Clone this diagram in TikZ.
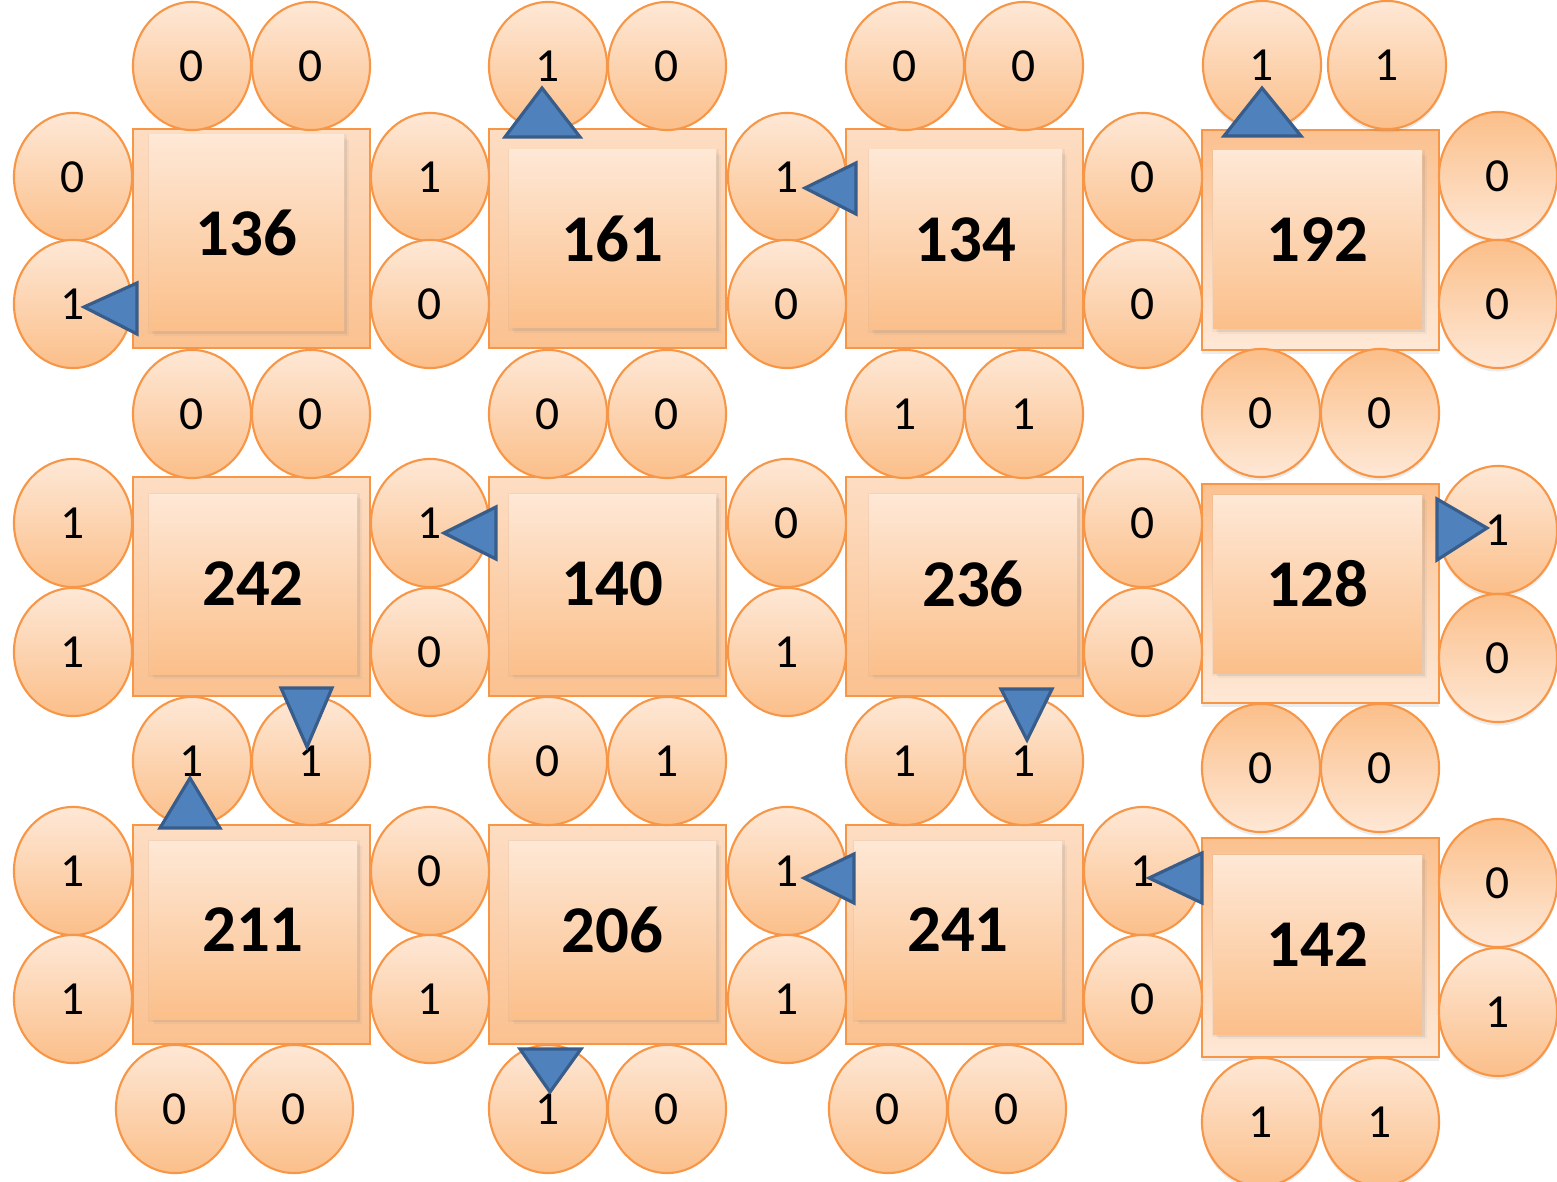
\documentclass[tikz,border=0pt]{standalone}
\usepackage{fontspec}
\setmainfont{Carlito}
\usetikzlibrary{shapes.geometric,shadows}
\definecolor{cLt}{HTML}{FEE8D6}
\definecolor{cDk}{HTML}{FBBF8A}
\definecolor{cOLt}{HTML}{FDDDC3}
\definecolor{cODk}{HTML}{FBC190}
\definecolor{cStroke}{HTML}{F79646}
\definecolor{triFill}{HTML}{4F81BD}
\definecolor{triLine}{HTML}{385D8A}
\tikzset{
  softshadow/.style={
    drop shadow={opacity=0.08, shadow xshift=0.3pt, shadow yshift=-0.3pt, shadow scale=1.02},
    drop shadow={opacity=0.08, shadow xshift=0.8pt, shadow yshift=-0.8pt},
    drop shadow={opacity=0.08, shadow xshift=1.3pt, shadow yshift=-1.3pt}},
  bit/.style={ellipse, draw=cStroke, line width=0.6pt, inner sep=0pt,
    minimum width=1.18cm, minimum height=1.28cm,
    font=\fontsize{13.5}{16}\selectfont},
  bitn/.style={bit, top color=cLt, bottom color=cDk},
  bitr/.style={bit, top color=cDk, bottom color=cLt},
  bitns/.style={bitn, drop shadow={opacity=0.15, shadow xshift=0pt, shadow yshift=-1pt}},
  bitrs/.style={bitr, drop shadow={opacity=0.15, shadow xshift=0pt, shadow yshift=-1pt}},
  outerbox/.style={rectangle, draw=cStroke, line width=0.6pt, inner sep=0pt,
    top color=cOLt, bottom color=cODk},
  outerboxr/.style={rectangle, draw=cStroke, line width=0.6pt, inner sep=0pt,
    top color=cODk, bottom color=cLt,
    drop shadow={opacity=0.15, shadow xshift=0pt, shadow yshift=-1pt}},
  innerbox/.style={rectangle, inner sep=0pt, top color=cLt, bottom color=cDk,
    softshadow, font=\fontsize{19}{22}\selectfont\bfseries},
  tri/.style={fill=triFill, draw=triLine, line width=0.9pt, line join=miter}
}
% name, style, x1, y1, x2, y2, text
\newcommand\mybox[7]{%
  \node[#2, minimum width={(#5-#3)*0.01cm}, minimum height={(#6-#4)*0.01cm}]
    (#1) at ({(#3+#5)/2},{(#4+#6)/2}) {#7};}
% name, style, x, y, text
\newcommand\mycirc[5]{\node[#2] (#1) at (#3,#4) {#5};}
\begin{document}
\begin{tikzpicture}[x=0.01cm,y=-0.01cm]
\useasboundingbox (0,0) rectangle (1557,1182);
% outer boxes
\mybox{o11}{outerbox}{133}{129}{370}{348}{}
\mybox{o12}{outerbox}{489}{129}{726}{348}{}
\mybox{o13}{outerbox}{846}{129}{1083}{348}{}
\mybox{o14}{outerboxr}{1202}{130}{1439}{350}{}
\mybox{o21}{outerbox}{133}{477}{370}{696}{}
\mybox{o22}{outerbox}{489}{477}{726}{696}{}
\mybox{o23}{outerbox}{846}{477}{1083}{696}{}
\mybox{o24}{outerboxr}{1202}{484}{1439}{703}{}
\mybox{o31}{outerbox}{133}{825}{370}{1044}{}
\mybox{o32}{outerbox}{489}{825}{726}{1044}{}
\mybox{o33}{outerbox}{846}{825}{1083}{1044}{}
\mybox{o34}{outerboxr}{1202}{838}{1439}{1057}{}
% inner boxes
\mybox{i11}{innerbox}{149}{135}{344}{331}{136}
\mybox{i12}{innerbox}{509}{150}{716}{328}{161}
\mybox{i13}{innerbox}{869}{150}{1062}{330}{134}
\mybox{i14}{innerbox}{1213}{151}{1422}{329}{192}
\mybox{i21}{innerbox}{149}{494}{357}{674}{242}
\mybox{i22}{innerbox}{509}{494}{716}{674}{140}
\mybox{i23}{innerbox}{869}{494}{1077}{674}{236}
\mybox{i24}{innerbox}{1213}{495}{1422}{673}{128}
\mybox{i31}{innerbox}{149}{841}{357}{1019}{211}
\mybox{i32}{innerbox}{509}{841}{716}{1019}{206}
\mybox{i33}{innerbox}{854}{841}{1062}{1019}{241}
\mybox{i34}{innerbox}{1213}{855}{1422}{1034}{142}
% row 0 (top)
\mycirc{t1a}{bitn}{192}{66}{0}
\mycirc{t1b}{bitn}{311}{66}{0}
\mycirc{t2a}{bitn}{548}{66}{1}
\mycirc{t2b}{bitn}{667}{66}{0}
\mycirc{t3a}{bitn}{905}{66}{0}
\mycirc{t3b}{bitn}{1024}{66}{0}
\mycirc{t4a}{bitns}{1262}{65}{1}
\mycirc{t4b}{bitns}{1387}{65}{1}
% row 1 sides
\mycirc{s10a}{bitn}{73}{177}{0}
\mycirc{s10b}{bitn}{73}{304}{1}
\mycirc{s11a}{bitn}{430}{177}{1}
\mycirc{s11b}{bitn}{430}{304}{0}
\mycirc{s12a}{bitn}{787}{177}{1}
\mycirc{s12b}{bitn}{787}{304}{0}
\mycirc{s13a}{bitn}{1143}{177}{0}
\mycirc{s13b}{bitn}{1143}{304}{0}
\mycirc{s14a}{bitrs}{1498}{176}{0}
\mycirc{s14b}{bitrs}{1498}{304}{0}
% between rows 1 and 2
\mycirc{m1a}{bitn}{192}{414}{0}
\mycirc{m1b}{bitn}{311}{414}{0}
\mycirc{m2a}{bitn}{548}{414}{0}
\mycirc{m2b}{bitn}{667}{414}{0}
\mycirc{m3a}{bitn}{905}{414}{1}
\mycirc{m3b}{bitn}{1024}{414}{1}
\mycirc{m4a}{bitrs}{1261}{413}{0}
\mycirc{m4b}{bitrs}{1380}{413}{0}
% row 2 sides
\mycirc{s20a}{bitn}{73}{523}{1}
\mycirc{s20b}{bitn}{73}{652}{1}
\mycirc{s21a}{bitn}{430}{523}{1}
\mycirc{s21b}{bitn}{430}{652}{0}
\mycirc{s22a}{bitn}{787}{523}{0}
\mycirc{s22b}{bitn}{787}{652}{1}
\mycirc{s23a}{bitn}{1143}{523}{0}
\mycirc{s23b}{bitn}{1143}{652}{0}
\mycirc{s24a}{bitns}{1498}{530}{1}
\mycirc{s24b}{bitrs}{1498}{658}{0}
% between rows 2 and 3
\mycirc{n1a}{bitn}{192}{761}{1}
\mycirc{n1b}{bitn}{311}{761}{1}
\mycirc{n2a}{bitn}{548}{761}{0}
\mycirc{n2b}{bitn}{667}{761}{1}
\mycirc{n3a}{bitn}{905}{761}{1}
\mycirc{n3b}{bitn}{1024}{761}{1}
\mycirc{n4a}{bitrs}{1261}{768}{0}
\mycirc{n4b}{bitrs}{1380}{768}{0}
% row 3 sides
\mycirc{s30a}{bitn}{73}{871}{1}
\mycirc{s30b}{bitn}{73}{999}{1}
\mycirc{s31a}{bitn}{430}{871}{0}
\mycirc{s31b}{bitn}{430}{999}{1}
\mycirc{s32a}{bitn}{787}{871}{1}
\mycirc{s32b}{bitn}{787}{999}{1}
\mycirc{s33a}{bitn}{1143}{871}{1}
\mycirc{s33b}{bitn}{1143}{999}{0}
\mycirc{s34a}{bitrs}{1498}{883}{0}
\mycirc{s34b}{bitns}{1498}{1012}{1}
% bottom
\mycirc{b1a}{bitn}{175}{1109}{0}
\mycirc{b1b}{bitn}{294}{1109}{0}
\mycirc{b2a}{bitn}{548}{1109}{1}
\mycirc{b2b}{bitn}{667}{1109}{0}
\mycirc{b3a}{bitn}{888}{1109}{0}
\mycirc{b3b}{bitn}{1007}{1109}{0}
\mycirc{b4a}{bitns}{1261}{1122}{1}
\mycirc{b4b}{bitns}{1380}{1122}{1}
% triangles
\draw[tri] (84,307) -- (137,283) -- (137,334) -- cycle;
\draw[tri] (542,88) -- (505,137) -- (580,137) -- cycle;
\draw[tri] (805,188) -- (856,163) -- (856,214) -- cycle;
\draw[tri] (1262,88) -- (1224,136) -- (1301,136) -- cycle;
\draw[tri] (444,533) -- (496,507) -- (496,559) -- cycle;
\draw[tri] (307,747) -- (281,688) -- (332,688) -- cycle;
\draw[tri] (1487,528) -- (1437,499) -- (1437,560) -- cycle;
\draw[tri] (1027,740) -- (1001,689) -- (1052,689) -- cycle;
\draw[tri] (190,778) -- (160,828) -- (220,828) -- cycle;
\draw[tri] (804,878) -- (854,854) -- (854,903) -- cycle;
\draw[tri] (1149,878) -- (1202,853) -- (1202,903) -- cycle;
\draw[tri] (550,1092) -- (520,1049) -- (581,1049) -- cycle;
\end{tikzpicture}
\end{document}
